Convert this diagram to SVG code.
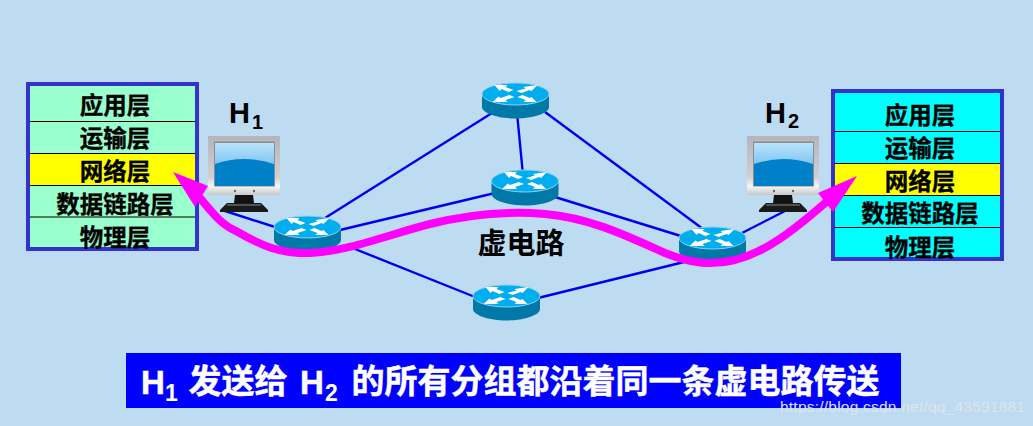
<svg xmlns="http://www.w3.org/2000/svg" width="1033" height="426" viewBox="0 0 1033 426">
<style>
.cjk{font-family:"Noto Sans CJK SC","Liberation Sans",sans-serif;font-weight:700;text-anchor:middle}
.lat{font-family:"Liberation Sans",Arial,sans-serif;font-weight:700}
.layer{font-size:23.500px;fill:#000;stroke:#000;stroke-width:.35}
.div{stroke:#000;stroke-width:1.2}
.box{fill:none;stroke:#3333cc;stroke-width:4}
.link{stroke:#0000ee;stroke-width:2.4;fill:none}
.ban{font-size:33px;fill:#fff;stroke:#fff;stroke-width:.5}
</style>
<defs>
<linearGradient id="scr" x1="0" y1="0" x2="0" y2="1"><stop offset="0" stop-color="#b8e4fb"/><stop offset="1" stop-color="#4aa6e6"/></linearGradient>
<linearGradient id="frm" x1="0" y1="0" x2="0" y2="1"><stop offset="0" stop-color="#b4b4ba"/><stop offset=".7" stop-color="#d0d0d4"/><stop offset=".85" stop-color="#f6f6f6"/><stop offset="1" stop-color="#c8c8c8"/></linearGradient>
<g id="monitor">
<rect x="0" y="0" width="72" height="59" fill="url(#frm)"/>
<rect x="6" y="5.500" width="61" height="45" fill="#8a8c92"/>
<rect x="7" y="7" width="59" height="43" fill="url(#scr)"/>
<path d="M7 28Q36 18 66 28V50H7Z" fill="#0080c8"/>
<circle cx="27" cy="55" r="1.2" fill="#666"/><circle cx="46" cy="55" r="1.2" fill="#666"/>
<path d="M27 59H45L46 67H26Z" fill="#111"/>
<path d="M19 67H53L60 74V76H12V74Z" fill="#1a1a1a"/>
<path d="M19 69H53" stroke="#888" stroke-width="1"/>
</g>
<g id="router">
<path d="M-33.500 0V13C-33.500 19 -18 24.500 0 24.500S33.500 19 33.500 13V0Z" fill="#0078a8"/>
<ellipse cx="0" cy="0" rx="33.500" ry="11" fill="#00aeef" stroke="#8fd0ee" stroke-width="1"/>
<polygon points="-21,-9 -8,-9 -10,-7 -2,-4 -7,-2 -14,-5 -16,-3" fill="#fff"/>
<polygon points="22,-9 8,-7 10,-5.500 1,-3 6,-1 14,-4 16,-3" fill="#fff"/>
<polygon points="-23,8 -8,8 -10,6 -1,3 -6,1 -15,4 -17,2.500" fill="#fff"/>
<polygon points="21,8 8,8 10,6 2,3 7,1 14,4 16,3" fill="#fff"/>
</g>
</defs>
<rect width="1033" height="426" fill="#bddcf2"/>
<g id="connectors">
<line class="link" x1="222" y1="210" x2="278" y2="228"/>
<line class="link" x1="325" y1="218" x2="492" y2="113"/>
<line class="link" x1="340" y1="230" x2="495" y2="193"/>
<line class="link" x1="345" y1="245" x2="480" y2="299"/>
<line class="link" x1="517.500" y1="118" x2="522.500" y2="170"/>
<line class="link" x1="545" y1="112" x2="703" y2="229"/>
<line class="link" x1="555" y1="197" x2="684" y2="237"/>
<line class="link" x1="538" y1="298" x2="684" y2="262"/>
<line class="link" x1="742" y1="233" x2="785" y2="211"/>
</g>
<g id="stack-h1">
<rect x="28" y="84" width="169" height="165" fill="#99ffcc"/>
<rect x="30" y="153.500" width="166" height="32" fill="#ffff00"/>
<line class="div" x1="28" y1="121.500" x2="197" y2="121.500"/>
<line class="div" x1="28" y1="153.500" x2="197" y2="153.500"/>
<line class="div" x1="28" y1="185.500" x2="197" y2="185.500"/>
<line class="div" x1="28" y1="217" x2="197" y2="217"/>
<rect class="box" x="28" y="84" width="169" height="165"/>
<text class="cjk layer" x="115" y="114">应用层</text>
<text class="cjk layer" x="115" y="147">运输层</text>
<text class="cjk layer" x="115" y="180">网络层</text>
<text class="cjk layer" x="115" y="213">数据链路层</text>
<text class="cjk layer" x="115" y="246">物理层</text>
</g>
<g id="stack-h2">
<rect x="833" y="91" width="169" height="168" fill="#00ffff"/>
<rect x="834" y="163.500" width="168" height="32" fill="#ffff00"/>
<line class="div" x1="833" y1="131.500" x2="1002" y2="131.500"/>
<line class="div" x1="833" y1="163.500" x2="1002" y2="163.500"/>
<line class="div" x1="833" y1="195.500" x2="1002" y2="195.500"/>
<line class="div" x1="833" y1="227.500" x2="1002" y2="227.500"/>
<rect class="box" x="833" y="91" width="169" height="168"/>
<text class="cjk layer" x="920" y="124">应用层</text>
<text class="cjk layer" x="920" y="157">运输层</text>
<text class="cjk layer" x="920" y="190">网络层</text>
<text class="cjk layer" x="920" y="222">数据链路层</text>
<text class="cjk layer" x="920" y="256">物理层</text>
</g>
<g id="host-h1">
<use href="#monitor" x="208" y="136"/>
<text class="lat" x="229" y="123" font-size="29">H</text>
<text class="lat" x="252" y="129" font-size="20">1</text>
</g>
<g id="host-h2">
<use href="#monitor" x="747" y="136"/>
<text class="lat" x="765" y="123" font-size="29">H</text>
<text class="lat" x="788" y="128" font-size="20">2</text>
</g>
<g id="router-left"><use href="#router" x="307.500" y="227"/></g>
<g id="router-top"><use href="#router" x="515.500" y="94"/></g>
<g id="router-mid"><use href="#router" x="525" y="181"/></g>
<g id="router-right"><use href="#router" x="712.500" y="238"/></g>
<g id="router-bottom"><use href="#router" x="506.500" y="296"/></g>
<g id="vc-path">
<path d="M195 192C212 212 220 224 236 231C262 246 280 254 310 253C350 251 390 234 430 224C470 214 510 211 545 214C590 218 625 235 665 253C690 263 710 266 735 260C765 252 790 234 832 197" fill="none" stroke="#ff00ff" stroke-width="8"/>
<polygon points="173,172 208,186 195,207" fill="#ff00ff"/>
<polygon points="857,176 818,193 833,212" fill="#ff00ff"/>
</g>
<g id="vc-label"><text class="cjk" x="521" y="254" font-size="29" fill="#000">虚电路</text></g>
<g id="banner">
<rect x="126" y="353" width="775" height="55" fill="#0000ff"/>
<text class="lat ban" x="141" y="394">H</text>
<text class="lat" x="165" y="401" font-size="23" fill="#fff">1</text>
<text class="cjk ban" x="238" y="393">发送给</text>
<text class="lat ban" x="300" y="394">H</text>
<text class="lat" x="325" y="401" font-size="23" fill="#fff">2</text>
<text class="cjk ban" x="615.500" y="393">的所有分组都沿着同一条虚电路传送</text>
</g>
<text x="780" y="412" font-family="Liberation Sans, sans-serif" font-size="15.500" fill="#dde3ea" textLength="245">https://blog.csdn.net/qq_43591881</text>
</svg>
